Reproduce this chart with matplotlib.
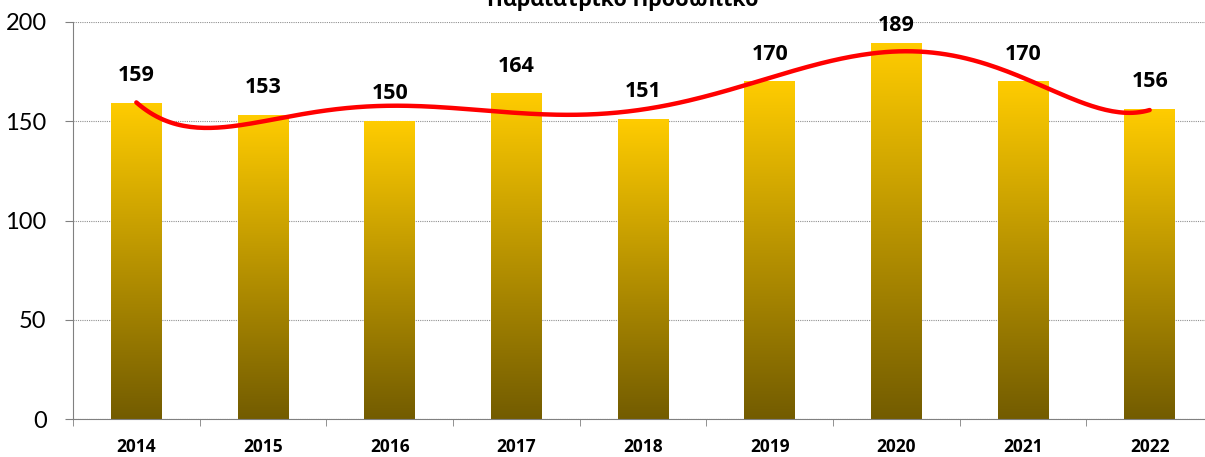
import numpy as np
import matplotlib
matplotlib.use('Agg')
import matplotlib.pyplot as plt
from matplotlib.colors import LinearSegmentedColormap

# Dati
years = ['2014', '2015', '2016', '2017', '2018', '2019', '2020', '2021', '2022']
values = [159, 153, 150, 164, 151, 170, 189, 170, 156]
title = 'Παραϊατρικό Προσωπικό'

plt.rcParams['font.family'] = ['Lato', 'DejaVu Sans']
bold_font = ['Open Sans', 'DejaVu Sans']

fig = plt.figure(figsize=(12.05, 4.57), dpi=100)
ax = fig.add_axes([73 / 1205, 38 / 457, 1140 / 1205, 397 / 457])

x = np.arange(len(years))
w = 0.4
cmap = LinearSegmentedColormap.from_list('oro', ['#735C00', '#B89300', '#FFCC00'])
grad = np.linspace(0, 1, 256).reshape(-1, 1)

# barre con sfumatura + etichette
for xi, v in zip(x, values):
    ax.imshow(grad, extent=(xi - w / 2, xi + w / 2, 0, v), origin='lower',
              cmap=cmap, aspect='auto', zorder=2)
    ypos = min(v + 13.8, 198)  # etichetta dentro l'area del grafico
    ax.text(xi, ypos, str(v), ha='center', va='center', fontsize=15.5,
            fontweight='bold', family=bold_font, zorder=4)

# linea di tendenza polinomiale
coef = np.polyfit(x, values, 6)
xs = np.linspace(0, len(years) - 1, 300)
ax.plot(xs, np.polyval(coef, xs), color='#FF0000', lw=3.2, zorder=3,
        solid_capstyle='round')

ax.set_xlim(-0.5, len(years) - 0.5)
ax.set_ylim(0, 200)
ax.set_yticks([0, 50, 100, 150, 200])
ax.tick_params(axis='y', labelsize=17, length=6, color='#808080', pad=13)
ax.set_xticks(x)
ax.set_xticklabels(years, fontsize=12.5, fontweight='bold', family=bold_font)
ax.set_xticks(np.arange(-0.5, len(years)), minor=True)
ax.tick_params(axis='x', which='major', length=0, pad=14)
ax.tick_params(axis='x', which='minor', length=5, color='#808080')
ax.grid(axis='y', color='#909090', ls=(0, (1, 1)), lw=0.8, zorder=0)
for s in ['top', 'right']:
    ax.spines[s].set_visible(False)
for s in ['left', 'bottom']:
    ax.spines[s].set_color('#808080')

fig.text(0.517, 1.0, title, ha='center', va='center', fontsize=15.5,
         fontweight='bold', family=bold_font)

fig.savefig('out.png', dpi=100)
